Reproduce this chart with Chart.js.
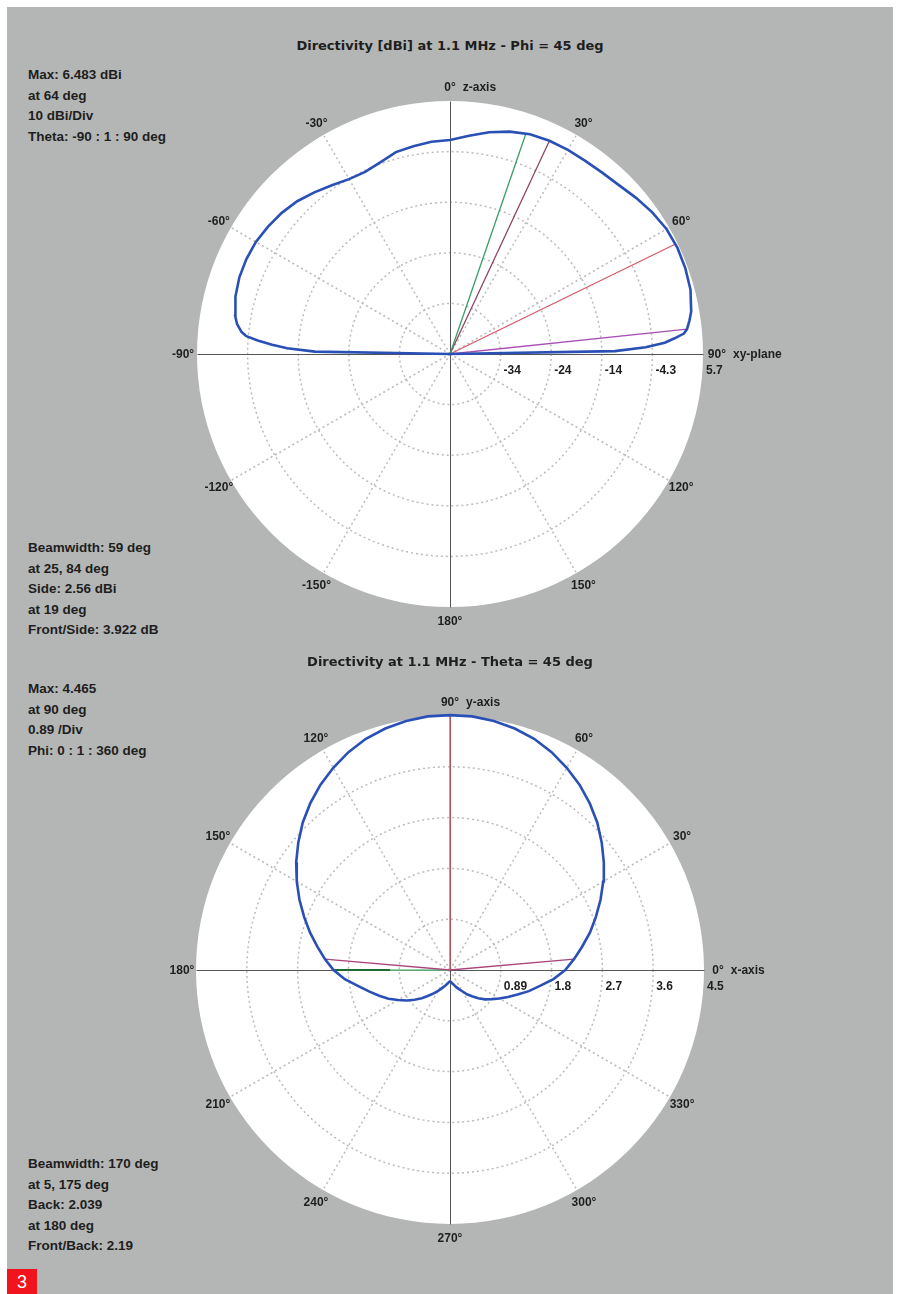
<!DOCTYPE html>
<html>
<head>
<meta charset="utf-8">
<script src="https://cdn.jsdelivr.net/npm/chart.js@4.4.0/dist/chart.umd.min.js"></script>
<style>
html, body { margin: 0; padding: 0; background: #fff; }
body { position: relative; width: 900px; height: 1294px; overflow: hidden; }
#panel { position: absolute; left: 7px; top: 7px; width: 886px; height: 1287px; background: #b4b6b5; }
.info { position: absolute; font: bold 13.5px "Liberation Sans", Arial, sans-serif; color: #1e1e1e; white-space: nowrap; line-height: 20.6px; }
.title { position: absolute; left: 0; width: 900px; text-align: center; font: bold 13px "DejaVu Sans", sans-serif; color: #1e1e1e; line-height: 16px; }
.lbl { position: absolute; font: bold 12px "Liberation Sans", Arial, sans-serif; color: #1e1e1e; white-space: nowrap; line-height: 14px; }
.ang { transform: translate(-50%, -50%); }
.ang span { position: absolute; left: calc(100% + 7px); top: 0; }
.ring { transform: translate(0, -50%); }
canvas { position: absolute; }
#badge { position: absolute; left: 7px; top: 1269px; width: 30px; height: 25px; background: #f2141c; color: #fff; font: 18px "Liberation Sans", Arial, sans-serif; text-align: center; line-height: 27px; }
</style>
</head>
<body>
<div id="panel"></div>
<canvas id="topChart" width="540" height="540" style="left:180px; top:84px;"></canvas>
<canvas id="botChart" width="540" height="540" style="left:180px; top:700px;"></canvas>
<div id="badge">3</div>

<script>
// ---------- top plot: Directivity [dBi], Phi = 45 deg ----------
var thetaDeg = [-90, -89, -88, -87, -86, -85, -84, -82, -80, -75, -70, -65, -60, -55, -50, -45, -40, -35, -30, -25,
                -20, -15, -10, -5, 0, 5, 10, 15, 20, 25, 30, 35, 40, 45, 50, 55, 60, 65, 70, 75,
                80, 82, 84, 85, 86, 87, 88, 89, 90];
var dirDbi = [-44.3, -17.6, -12.1, -9.1, -6.2, -3.9, -2.9, -1.8, -1.2, -0.4, 0.0, 0.1, 0.0, -0.4, -0.9, -1.6, -2.6, -3.6, -4.4, -4.6,
              -4.0, -3.0, -2.6, -2.2, -2.0, -1.0, 0.2, 1.2, 1.9, 2.2, 2.3, 2.3, 2.5, 2.9, 3.7, 4.5, 5.1, 5.3, 5.2, 4.9,
              4.1, 3.5, 2.8, 2.1, 0.2, -1.8, -5.6, -11.7, -44.3];
var topCenterDbi = -44.3;
var topRingValues = [-34.3, -24.3, -14.3, -4.3, 5.7];
var topRingLabels = ['-34', '-24', '-14', '-4.3', '5.7'];
var topAngleTicks = [0, 30, 60, 90, 120, 150, 180, -150, -120, -90, -60, -30];
var topMarkAngles = [19, 25, 64, 84];
var topMarkValues = [1.8, 2.2, 5.3, 2.8];
var topInfo = ['Max: 6.483 dBi', 'at 64 deg', '10 dBi/Div', 'Theta: -90 : 1 : 90 deg'];
var topFoot = ['Beamwidth: 59 deg', 'at 25, 84 deg', 'Side: 2.56 dBi', 'at 19 deg', 'Front/Side: 3.922 dB'];

// ---------- bottom plot: Directivity, Theta = 45 deg ----------
var phiDeg = [0, 5, 10, 15, 20, 25, 30, 35, 40, 45, 50, 55, 60, 65, 70, 75, 80, 85, 90,
              95, 100, 105, 110, 115, 120, 125, 130, 135, 140, 145, 150, 155, 160, 165, 170, 175, 180,
              185, 190, 195, 200, 205, 210, 215, 220, 225, 230, 235, 240, 245, 250, 255, 260, 265, 270,
              275, 280, 285, 290, 295, 300, 305, 310, 315, 320, 325, 330, 335, 340, 345, 350, 355, 360];
var dirLin = [2.02, 2.18, 2.35, 2.54, 2.72, 2.91, 3.10, 3.29, 3.47, 3.65, 3.81, 3.96, 4.09, 4.21, 4.31, 4.38, 4.43, 4.46, 4.465,
              4.46, 4.43, 4.38, 4.31, 4.21, 4.09, 3.96, 3.81, 3.65, 3.47, 3.29, 3.10, 2.91, 2.72, 2.54, 2.36, 2.20, 2.04,
              1.85, 1.63, 1.46, 1.32, 1.19, 1.05, 0.93, 0.81, 0.70, 0.59, 0.50, 0.43, 0.36, 0.31, 0.27, 0.24, 0.21, 0.20,
              0.21, 0.24, 0.27, 0.32, 0.37, 0.43, 0.52, 0.60, 0.70, 0.80, 0.89, 1.00, 1.12, 1.26, 1.43, 1.60, 1.82, 2.02];
var botRingValues = [0.89, 1.78, 2.67, 3.56, 4.45];
var botRingLabels = ['0.89', '1.8', '2.7', '3.6', '4.5'];
var botAngleTicks = [0, 30, 60, 90, 120, 150, 180, 210, 240, 270, 300, 330];
var botMarkAngles = [90, 5, 175, 180];
var botMarkValues = [4.465, 2.18, 2.2, 2.039];
var botBackInner = 1.05;
var botInfo = ['Max: 4.465', 'at 90 deg', '0.89 /Div', 'Phi: 0 : 1 : 360 deg'];
var botFoot = ['Beamwidth: 170 deg', 'at 5, 175 deg', 'Back: 2.039', 'at 180 deg', 'Front/Back: 2.19'];

// polar -> cartesian for each plot (top: theta from z-axis clockwise, bottom: phi from x-axis counter-clockwise)
function topXY(a, v) {
    var u = Math.max(0, v - topCenterDbi), r = a * Math.PI / 180;
    return { x: u * Math.sin(r), y: u * Math.cos(r) };
}
function botXY(a, v) {
    var r = a * Math.PI / 180;
    return { x: v * Math.cos(r), y: v * Math.sin(r) };
}

// draws the white disk, dotted rings / spokes and the two solid axes under the data
function polarGrid(cfg) {
    return {
        id: 'polarGrid',
        beforeDatasetsDraw: function (chart) {
            var ctx = chart.ctx, xs = chart.scales.x, ys = chart.scales.y;
            var px = function (p) { return [xs.getPixelForValue(p.x), ys.getPixelForValue(p.y)]; };
            var c = px(cfg.toXY(0, cfg.origin));
            var edge = px(cfg.toXY(cfg.rightAngle, cfg.rings[cfg.rings.length - 1]));
            var R = edge[0] - c[0];
            ctx.save();
            ctx.fillStyle = '#ffffff';
            ctx.beginPath(); ctx.arc(c[0], c[1], R, 0, Math.PI * 2); ctx.fill();

            ctx.strokeStyle = '#bcbcbc';
            ctx.lineWidth = 1.5;
            ctx.setLineDash([2, 3]);
            cfg.rings.slice(0, -1).forEach(function (v) {
                var p = px(cfg.toXY(cfg.rightAngle, v));
                ctx.beginPath(); ctx.arc(c[0], c[1], p[0] - c[0], 0, Math.PI * 2); ctx.stroke();
            });
            cfg.angles.forEach(function (a) {
                if (a % 90 === 0) return;
                var p = px(cfg.toXY(a, cfg.rings[cfg.rings.length - 1]));
                ctx.beginPath(); ctx.moveTo(c[0], c[1]); ctx.lineTo(p[0], p[1]); ctx.stroke();
            });

            ctx.setLineDash([]);
            ctx.strokeStyle = '#555555';
            ctx.lineWidth = 1;
            [0, 90].forEach(function (a) {
                var outer = cfg.rings[cfg.rings.length - 1];
                var p1 = px(cfg.toXY(a, outer)), p2 = px(cfg.toXY(a + 180, outer));
                ctx.beginPath();
                ctx.moveTo(Math.round(p1[0]) + 0.5, Math.round(p1[1]) + 0.5);
                ctx.lineTo(Math.round(p2[0]) + 0.5, Math.round(p2[1]) + 0.5);
                ctx.stroke();
            });
            ctx.restore();
        }
    };
}

function lineSet(points, color, width, order) {
    return { data: points, showLine: true, borderColor: color, borderWidth: width,
             pointRadius: 0, fill: false, tension: 0, order: order };
}

function makePolar(opts) {
    var canvas = document.getElementById(opts.id);
    var half = canvas.width / 2;
    var span = (opts.outerValue - opts.origin) * half / opts.outerPx;
    var chart = new Chart(canvas, {
        type: 'scatter',
        data: { datasets: opts.datasets },
        options: {
            responsive: false,
            animation: false,
            events: [],
            layout: { padding: 0 },
            plugins: { legend: { display: false }, tooltip: { enabled: false } },
            scales: {
                x: { type: 'linear', min: -span, max: span, display: false },
                y: { type: 'linear', min: -span, max: span, display: false }
            }
        },
        plugins: [polarGrid({ toXY: opts.toXY, rings: opts.rings, angles: opts.angles,
                              origin: opts.origin, rightAngle: opts.rightAngle })]
    });

    // text labels placed through the chart's own scales
    var left = canvas.offsetLeft, top = canvas.offsetTop;
    var xs = chart.scales.x, ys = chart.scales.y;
    function pagePos(a, v) {
        var p = opts.toXY(a, v);
        return [left + xs.getPixelForValue(p.x), top + ys.getPixelForValue(p.y)];
    }
    var c = pagePos(0, opts.origin);
    var labelValue = opts.origin + (opts.outerValue - opts.origin) * 1.055;
    opts.angles.forEach(function (a) {
        var p = pagePos(a, labelValue);
        var d = document.createElement('div');
        d.className = 'lbl ang';
        d.style.left = p[0] + 'px';
        d.style.top = p[1] + 'px';
        d.textContent = a + '\u00B0';
        if (opts.axisNames[a]) {
            var s = document.createElement('span');
            s.textContent = opts.axisNames[a];
            d.appendChild(s);
        }
        document.body.appendChild(d);
    });
    opts.rings.forEach(function (v, i) {
        var p = pagePos(opts.rightAngle, v);
        var d = document.createElement('div');
        d.className = 'lbl ring';
        d.style.left = (p[0] + 3) + 'px';
        d.style.top = (c[1] + 16) + 'px';
        d.textContent = opts.ringLabels[i];
        document.body.appendChild(d);
    });
    return chart;
}

function addBlock(lines, x, y, cls) {
    var d = document.createElement('div');
    d.className = cls;
    d.style.left = x + 'px';
    d.style.top = y + 'px';
    d.innerHTML = lines.join('<br>');
    document.body.appendChild(d);
}

// ---- top chart ----
var topDatasets = [lineSet(thetaDeg.map(function (t, i) { return topXY(t, dirDbi[i]); }), '#2a50b6', 2.6, 0)];
var topMarkColors = ['#3a9c68', '#8e4466', '#d8596a', '#a950b6'];
topMarkAngles.forEach(function (a, i) {
    topDatasets.push(lineSet([topXY(a, topCenterDbi), topXY(a, topMarkValues[i])], topMarkColors[i], 1.3, 1));
});
makePolar({
    id: 'topChart', toXY: topXY, origin: topCenterDbi, outerValue: topRingValues[4], outerPx: 253,
    rings: topRingValues, ringLabels: topRingLabels, angles: topAngleTicks, rightAngle: 90,
    axisNames: { 0: 'z-axis', 90: 'xy-plane' }, datasets: topDatasets
});

// ---- bottom chart ----
var botDatasets = [lineSet(phiDeg.map(function (p, i) { return botXY(p, dirLin[i]); }), '#2a50b6', 2.6, 0)];
var botMarkColors = ['#e0505a', '#a8467c', '#a8467c', '#6cc48a'];
botMarkAngles.forEach(function (a, i) {
    botDatasets.push(lineSet([botXY(a, 0), botXY(a, botMarkValues[i])], botMarkColors[i], 1.3, 2));
});
botDatasets.push(lineSet([botXY(180, botBackInner), botXY(180, botMarkValues[3])], '#1f6a30', 2.2, 1));
makePolar({
    id: 'botChart', toXY: botXY, origin: 0, outerValue: botRingValues[4], outerPx: 254,
    rings: botRingValues, ringLabels: botRingLabels, angles: botAngleTicks, rightAngle: 0,
    axisNames: { 0: 'x-axis', 90: 'y-axis' }, datasets: botDatasets
});

// ---- titles and info text ----
addBlock(['Directivity [dBi] at 1.1 MHz - Phi = 45 deg'], 0, 38, 'title');
addBlock(['Directivity at 1.1 MHz - Theta = 45 deg'], 0, 654, 'title');
addBlock(topInfo, 28, 65, 'info');
addBlock(topFoot, 28, 538, 'info');
addBlock(botInfo, 28, 679, 'info');
addBlock(botFoot, 28, 1154, 'info');
</script>
</body>
</html>
